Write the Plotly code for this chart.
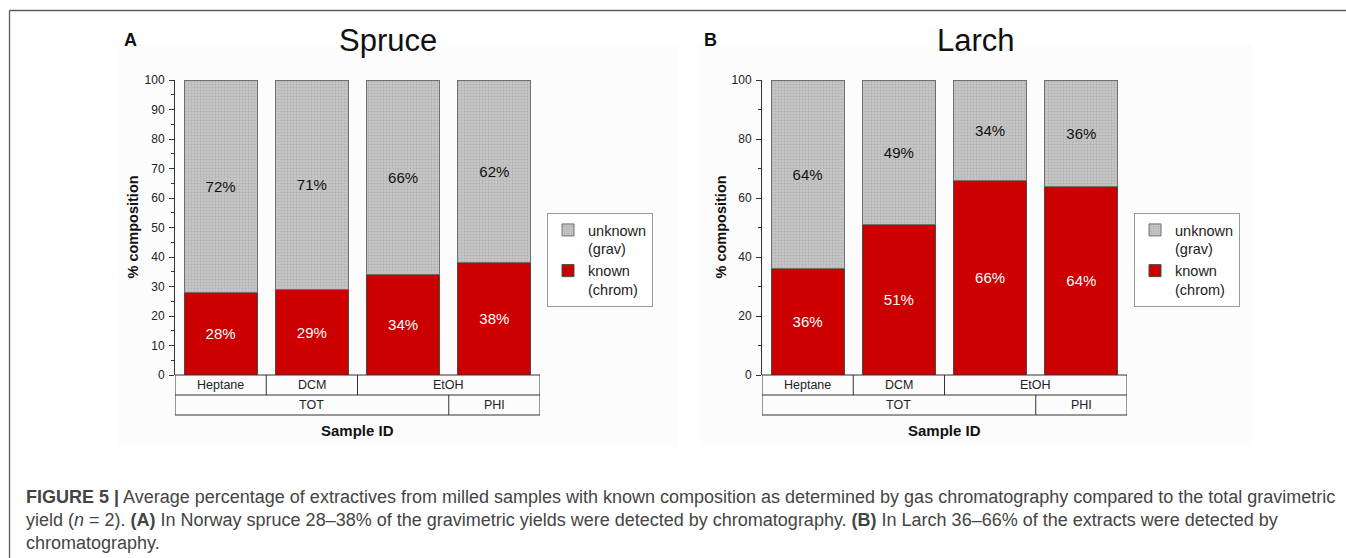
import plotly.graph_objects as go

# ---------------- data ----------------
samples = ["Heptane", "DCM", "EtOH-TOT", "EtOH-PHI"]
spruce_known = [28, 29, 34, 38]
spruce_unknown = [72, 71, 66, 62]
larch_known = [36, 51, 66, 64]
larch_unknown = [64, 49, 34, 36]

# category table rows: (label, first index, last index)
row1_labels = [("Heptane", 0, 0), ("DCM", 1, 1), ("EtOH", 2, 3)]
row2_labels = [("TOT", 0, 2), ("PHI", 3, 3)]

panel_titles = ["Spruce", "Larch"]
panel_letters = ["A", "B"]
legend_names = ["unknown<br>(grav)", "known<br>(chrom)"]

caption_lines = [
    "<b>FIGURE 5 |</b> Average percentage of extractives from milled samples with known composition as determined by gas chromatography compared to the total gravimetric",
    "yield (<i>n</i> = 2). <b>(A)</b> In Norway spruce 28–38% of the gravimetric yields were detected by chromatography. <b>(B)</b> In Larch 36–66% of the extracts were detected by",
    "chromatography.",
]

# ---------------- layout helpers ----------------
W, H = 1346, 558
FONT = "Liberation Sans, Arial, sans-serif"
RED = "#cc0000"
GRAY = "#c6c6c6"

def px(x):
    return x / W

def py(y):
    return 1 - y / H

ytop, ybot = 80, 375
plot_h = ybot - ytop
panels = [
    dict(x0=175, x1=540, legx=547, known=spruce_known, unknown=spruce_unknown,
         dtick=10, minor=5, title_x=388, letter_x=130, ylab_x=132),
    dict(x0=762, x1=1127, legx=1134, known=larch_known, unknown=larch_unknown,
         dtick=20, minor=10, title_x=976, letter_x=710, ylab_x=720),
]

fig = go.Figure()
shapes = []
annotations = []

# faint background panels
for bx0, bx1 in [(118, 678), (700, 1252)]:
    shapes.append(dict(type="rect", xref="paper", yref="paper",
                       x0=px(bx0), x1=px(bx1), y0=py(447), y1=py(45),
                       fillcolor="#fcfcfc", line=dict(width=0), layer="below"))

# frame lines
shapes.append(dict(type="line", xref="paper", yref="paper", x0=px(9.5), x1=1.0,
                   y0=py(10.5), y1=py(10.5), line=dict(color="#5a5a5a", width=1.3)))
shapes.append(dict(type="line", xref="paper", yref="paper", x0=px(9.5), x1=px(9.5),
                   y0=0.0, y1=py(10.5), line=dict(color="#5a5a5a", width=1.3)))

x_idx = list(range(len(samples)))
row_h = 20 / plot_h

for i, p in enumerate(panels):
    n = i + 1
    xa = "x" if n == 1 else f"x{n}"
    ya = "y" if n == 1 else f"y{n}"
    leg = "legend" if n == 1 else f"legend{n}"
    fig.add_trace(go.Bar(
        x=x_idx, y=p["known"], name=legend_names[1], xaxis=xa, yaxis=ya, legend=leg,
        marker=dict(color=RED, line=dict(color="#4a4a4a", width=1)),
        text=[f"{v}%" for v in p["known"]], textposition="inside",
        insidetextanchor="middle", textangle=0,
        textfont=dict(color="white", size=15, family=FONT),
        hoverinfo="skip",
    ))
    fig.add_trace(go.Bar(
        x=x_idx, y=p["unknown"], name=legend_names[0], xaxis=xa, yaxis=ya, legend=leg,
        marker=dict(color=GRAY, line=dict(color="#707070", width=1),
                    pattern=dict(shape=".", fgcolor="#9c9c9c", size=3, solidity=0.35)),
        text=[f"{v}%" for v in p["unknown"]], textposition="inside",
        insidetextanchor="middle", textangle=0,
        textfont=dict(color="#111111", size=15, family=FONT),
        hoverinfo="skip",
    ))

    axis_x = dict(domain=[px(p["x0"]), px(p["x1"])], range=[-0.5, len(samples) - 0.5],
                  showticklabels=False, showline=False, showgrid=False, zeroline=False,
                  ticks="", fixedrange=True, anchor=ya, automargin=False)
    axis_y = dict(domain=[py(ybot), py(ytop)], range=[0, 100], dtick=p["dtick"], tick0=0,
                  showline=True, linecolor="#333333", linewidth=1, showgrid=False,
                  zeroline=False, ticks="outside", ticklen=5, tickwidth=1, tickcolor="#333333",
                  minor=dict(dtick=p["minor"], tick0=0, ticks="outside", ticklen=3,
                             tickcolor="#333333", showgrid=False),
                  tickfont=dict(size=12, family=FONT, color="#222222"),
                  ticklabelstandoff=2, anchor=xa, fixedrange=True, automargin=False)
    fig.update_layout({("xaxis" if n == 1 else f"xaxis{n}"): axis_x,
                       ("yaxis" if n == 1 else f"yaxis{n}"): axis_y})

    # legend
    fig.update_layout({leg: dict(
        x=px(p["legx"]), y=py(213), xanchor="left", yanchor="top", xref="paper", yref="paper",
        traceorder="reversed", valign="top", bgcolor="white",
        bordercolor="#9a9a9a", borderwidth=1, itemwidth=30,
        font=dict(size=14.5, family=FONT, color="#222222"), tracegroupgap=0,
    )})

    # category table
    lc = dict(color="#333333", width=1)
    xd = xa + " domain"
    yd = ya + " domain"
    shapes.append(dict(type="rect", xref=xa, yref=yd, x0=-0.5, x1=len(samples) - 0.5,
                       y0=-2 * row_h, y1=0, line=lc))
    shapes.append(dict(type="line", xref=xa, yref=yd, x0=-0.5, x1=len(samples) - 0.5,
                       y0=-row_h, y1=-row_h, line=lc))
    for r, labels in enumerate([row1_labels, row2_labels]):
        y_top_r = -r * row_h
        y_bot_r = -(r + 1) * row_h
        for k, (lab, a, b) in enumerate(labels):
            if k > 0:
                shapes.append(dict(type="line", xref=xa, yref=yd, x0=a - 0.5, x1=a - 0.5,
                                   y0=y_bot_r, y1=y_top_r, line=lc))
            annotations.append(dict(text=lab, xref=xa, yref=yd, x=(a + b) / 2,
                                    y=(y_top_r + y_bot_r) / 2, showarrow=False,
                                    xanchor="center", yanchor="middle",
                                    font=dict(size=12.5, family=FONT, color="#222222")))

    # axis titles
    annotations.append(dict(text="<b>Sample ID</b>", xref=xd, yref=yd, x=0.5,
                            y=-(431 - ybot) / plot_h, showarrow=False,
                            xanchor="center", yanchor="middle",
                            font=dict(size=15, family=FONT, color="#111111")))
    annotations.append(dict(text="<b>% composition</b>", xref="paper", yref=yd,
                            x=px(p["ylab_x"]), y=0.5, textangle=-90, showarrow=False,
                            xanchor="center", yanchor="middle",
                            font=dict(size=14.5, family=FONT, color="#111111")))
    # panel title and letter
    annotations.append(dict(text=panel_titles[i], xref="paper", yref="paper",
                            x=px(p["title_x"]), y=py(40), showarrow=False,
                            xanchor="center", yanchor="middle",
                            font=dict(size=31, family=FONT, color="#111111")))
    annotations.append(dict(text=f"<b>{panel_letters[i]}</b>", xref="paper", yref="paper",
                            x=px(p["letter_x"]), y=py(40), showarrow=False,
                            xanchor="center", yanchor="middle",
                            font=dict(size=18, family=FONT, color="#111111")))

# caption
for k, line in enumerate(caption_lines):
    annotations.append(dict(text=line, xref="paper", yref="paper", x=px(24),
                            y=py(497 + 23 * k), showarrow=False, xanchor="left",
                            yanchor="middle", align="left",
                            font=dict(size=18, family=FONT, color="#444444")))

fig.update_layout(
    width=W, height=H, margin=dict(l=0, r=0, t=0, b=0, autoexpand=False),
    paper_bgcolor="white", plot_bgcolor="rgba(0,0,0,0)",
    barmode="stack", bargap=0.2, showlegend=True,
    shapes=shapes, annotations=annotations,
    font=dict(family=FONT),
    uniformtext=dict(minsize=10, mode="show"),
)

fig.write_html(
    "out.html",
    config={"displayModeBar": False},
    post_script="document.body.style.margin='0px';document.body.style.overflow='hidden';",
)
